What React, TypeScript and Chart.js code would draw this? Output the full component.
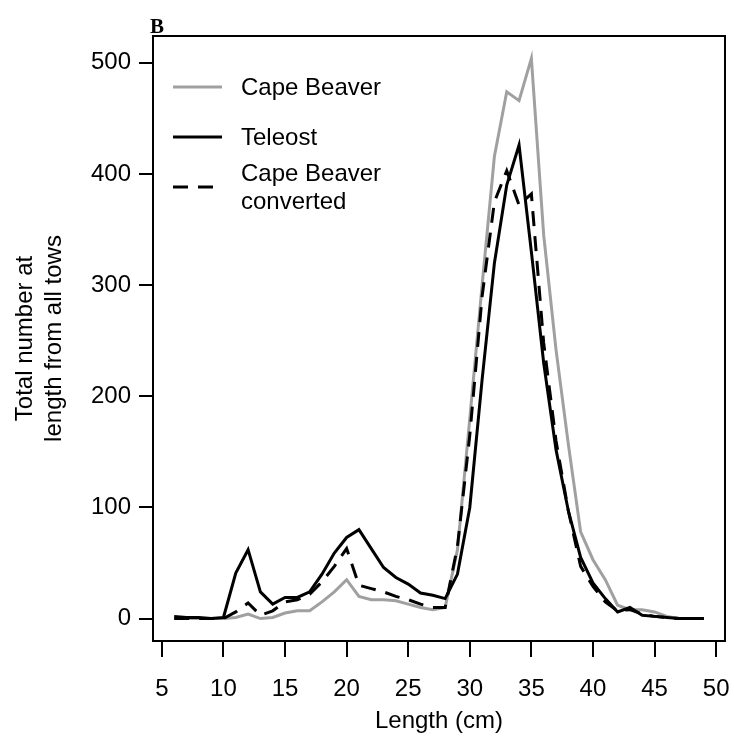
import React, { useEffect, useRef } from 'react';
import { Chart, registerables } from 'chart.js';

Chart.register(...registerables);

// ---- data ----
const lengths = [6, 7, 8, 9, 10, 11, 12, 13, 14, 15, 16, 17, 18, 19, 20, 21, 22, 23, 24, 25, 26, 27, 28, 29, 30, 31, 32, 33, 34, 35, 36, 37, 38, 39, 40, 41, 42, 43, 44, 45, 46, 47, 48, 49];
const capeBeaver = [0, 0, 0, 0, 0, 1, 4, 0, 1, 5, 7, 7, 15, 24, 35, 20, 17, 17, 16, 13, 10, 8, 10, 62, 180, 300, 416, 474, 466, 504, 345, 242, 157, 78, 53, 35, 12, 8, 8, 6, 2, 0, 0, 0];
const teleost = [2, 1, 1, 0, 1, 41, 62, 24, 13, 19, 19, 24, 40, 59, 73, 80, 63, 46, 37, 31, 23, 21, 18, 40, 100, 215, 320, 390, 426, 330, 230, 152, 97, 55, 32, 18, 6, 10, 3, 2, 1, 0, 0, 0];
const capeBeaverConverted = [0, 0, 0, 0, 0, 6, 14, 3, 7, 15, 17, 22, 33, 47, 63, 30, 27, 24, 20, 17, 13, 10, 10, 65, 165, 290, 375, 403, 372, 382, 248, 160, 97, 47, 29, 15, 7, 8, 4, 2, 1, 0, 0, 0];

const xTicks = [5, 10, 15, 20, 25, 30, 35, 40, 45, 50];
const yTicks = [0, 100, 200, 300, 400, 500];
const seriesNames = ['Cape Beaver', 'Teleost', 'Cape Beaver converted'];
const legendLabels = [['Cape Beaver'], ['Teleost'], ['Cape Beaver', 'converted']];
const panelLabel = 'B';
const xTitle = 'Length (cm)';
const yTitle = ['Total number at', 'length from all tows'];

// ---- layout / style ----
const W = 734;
const H = 742;
const AREA = { left: 153, top: 36, right: 725, bottom: 641 };
const FONT = '"Liberation Sans", Arial, Helvetica, sans-serif';
const FS = 24;
const GREY = '#a0a0a0';

const boxPlugin = {
  id: 'rBox',
  afterDatasetsDraw(chart: any) {
    const { ctx, chartArea } = chart;
    ctx.save();
    ctx.strokeStyle = '#000';
    ctx.lineWidth = 2;
    ctx.setLineDash([]);
    ctx.strokeRect(chartArea.left, chartArea.top, chartArea.right - chartArea.left, chartArea.bottom - chartArea.top);
    ctx.fillStyle = '#000';
    ctx.font = 'bold 21px "Liberation Serif", "Times New Roman", serif';
    ctx.textBaseline = 'alphabetic';
    ctx.textAlign = 'left';
    ctx.fillText(panelLabel, chartArea.left - 3, chartArea.top - 3);
    ctx.restore();
  },
};

const legendPlugin = {
  id: 'rLegend',
  afterDatasetsDraw(chart: any) {
    const { ctx, chartArea } = chart;
    const left = chartArea.left;
    const slotY = [87, 137, 187];
    ctx.save();
    ctx.font = FS + 'px ' + FONT;
    ctx.textBaseline = 'middle';
    ctx.textAlign = 'left';
    ctx.fillStyle = '#000';
    chart.data.datasets.forEach((ds: any, i: number) => {
      const y = slotY[i];
      ctx.beginPath();
      ctx.setLineDash(ds.borderDash || []);
      ctx.strokeStyle = ds.borderColor;
      ctx.lineWidth = ds.borderWidth;
      ctx.lineCap = 'butt';
      ctx.moveTo(left + 20, y);
      ctx.lineTo(left + 69, y);
      ctx.stroke();
      ctx.setLineDash([]);
      const lines = legendLabels[i];
      const lh = 28;
      lines.forEach((t, j) => {
        ctx.fillText(t, left + 88, y + 1 + (j - (lines.length - 1) / 2) * lh);
      });
    });
    ctx.restore();
  },
};

function toPoints(values: number[]) {
  return lengths.map((x, i) => ({ x, y: values[i] }));
}

function zeroPad(scale: any) {
  scale.paddingLeft = 0;
  scale.paddingRight = 0;
  scale.paddingTop = 0;
  scale.paddingBottom = 0;
}

export default function App() {
  const canvasRef = useRef<HTMLCanvasElement | null>(null);

  useEffect(() => {
    document.body.style.margin = '0';
    const canvas = canvasRef.current;
    if (!canvas) return;
    const chart = new Chart(canvas, {
      type: 'line',
      data: {
        datasets: [
          {
            label: seriesNames[0],
            data: toPoints(capeBeaver),
            borderColor: GREY,
            borderWidth: 3,
            borderDash: [],
            pointRadius: 0,
            tension: 0,
            fill: false,
            order: 3,
          },
          {
            label: seriesNames[1],
            data: toPoints(teleost),
            borderColor: '#000',
            borderWidth: 3,
            borderDash: [],
            pointRadius: 0,
            tension: 0,
            fill: false,
            order: 2,
          },
          {
            label: seriesNames[2],
            data: toPoints(capeBeaverConverted),
            borderColor: '#000',
            borderWidth: 3,
            borderDash: [15, 10],
            pointRadius: 0,
            tension: 0,
            fill: false,
            order: 1,
          },
        ],
      },
      options: {
        responsive: false,
        animation: false,
        devicePixelRatio: 1,
        layout: {
          padding: { left: 0, top: AREA.top, right: W - AREA.right, bottom: 0 },
        },
        plugins: {
          legend: { display: false },
          tooltip: { enabled: false },
          title: { display: false },
        },
        scales: {
          x: {
            type: 'linear',
            min: 4.28,
            max: 50.72,
            afterBuildTicks: (scale: any) => {
              scale.ticks = xTicks.map((v) => ({ value: v }));
            },
            afterFit: (scale: any) => {
              scale.height = H - AREA.bottom;
              zeroPad(scale);
            },
            grid: {
              drawOnChartArea: false,
              drawTicks: true,
              tickLength: 16,
              color: '#000',
              lineWidth: 2,
            },
            border: { display: false },
            ticks: {
              color: '#000',
              font: { family: FONT, size: FS },
              padding: 18,
              maxRotation: 0,
              autoSkip: false,
            },
            title: {
              display: true,
              text: xTitle,
              color: '#000',
              font: { family: FONT, size: FS },
              padding: { top: 0, bottom: 6 },
            },
          },
          y: {
            type: 'linear',
            min: -20.16,
            max: 524.16,
            afterBuildTicks: (scale: any) => {
              scale.ticks = yTicks.map((v) => ({ value: v }));
            },
            afterFit: (scale: any) => {
              scale.width = AREA.left;
              zeroPad(scale);
            },
            grid: {
              drawOnChartArea: false,
              drawTicks: true,
              tickLength: 14,
              color: '#000',
              lineWidth: 2,
            },
            border: { display: false },
            ticks: {
              color: '#000',
              font: { family: FONT, size: FS },
              padding: 8,
              autoSkip: false,
            },
            title: {
              display: true,
              text: yTitle,
              color: '#000',
              font: { family: FONT, size: FS },
              padding: { top: 11, bottom: 0 },
            },
          },
        },
      },
      plugins: [boxPlugin, legendPlugin],
    });
    return () => chart.destroy();
  }, []);

  return (
    <div style={{ width: W, height: H, background: '#fff' }}>
      <canvas ref={canvasRef} width={W} height={H} style={{ display: 'block', width: W, height: H }} />
    </div>
  );
}
